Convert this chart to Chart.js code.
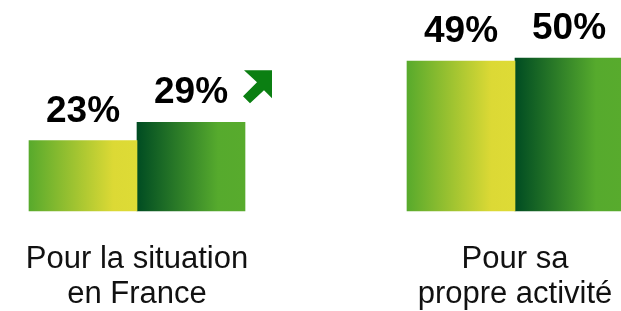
<!DOCTYPE html>
<html>
<head>
<meta charset="utf-8">
<script src="https://cdn.jsdelivr.net/npm/chart.js@4/dist/chart.umd.min.js"></script>
<style>
  html, body { margin: 0; padding: 0; background: #ffffff; }
  #wrap { width: 621px; height: 311px; }
</style>
</head>
<body>
<div id="wrap"><canvas id="c" width="621" height="311"></canvas></div>
<script>
// ---- data ----
const categories = [["Pour la situation", "en France"], ["Pour sa", "propre activité"]];
const seriesA = [23, 49];
const seriesB = [29, 50];
const valueLabelsA = ["23%", "49%"];
const valueLabelsB = ["29%", "50%"];

// ---- styles ----
const BAR_W = 108;
const gradA = [[0, '#58aa2c'], [0.78, '#dcd935'], [1, '#dedb36']];
const gradB = [[0, '#004c22'], [0.75, '#56aa2d'], [1, '#58ab2d']];

function barGradient(stops, side) {
  return function (ctx) {
    const chart = ctx.chart;
    if (!chart.chartArea || ctx.type !== 'data') return stops[0][1];
    const center = chart.scales.x.getPixelForValue(ctx.dataIndex);
    const left = side === 0 ? center - BAR_W : center;
    const g = chart.ctx.createLinearGradient(left, 0, left + BAR_W, 0);
    stops.forEach(s => g.addColorStop(s[0], s[1]));
    return g;
  };
}

const labelPlugin = {
  id: 'valueLabels',
  afterDatasetsDraw(chart) {
    const c = chart.ctx;
    c.save();
    c.font = 'bold 37px "Liberation Sans", Arial, sans-serif';
    c.fillStyle = '#000000';
    c.textAlign = 'center';
    c.textBaseline = 'alphabetic';
    [valueLabelsA, valueLabelsB].forEach((labels, di) => {
      const meta = chart.getDatasetMeta(di);
      meta.data.forEach((el, i) => {
        c.fillText(labels[i], el.x, el.y - 19);
      });
    });
    // green up-right arrow next to the second bar of the first group
    const el = chart.getDatasetMeta(1).data[0];
    const ox = el.x + 52, oy = el.y - 52;
    const pts = [[1, 0], [29, 0], [29, 28], [21, 20], [7, 33], [0, 26], [14, 12], [1, 0]];
    c.beginPath();
    pts.forEach((p, k) => k ? c.lineTo(ox + p[0], oy + p[1]) : c.moveTo(ox + p[0], oy + p[1]));
    c.closePath();
    c.fillStyle = '#0b7f12';
    c.fill();
    c.restore();
  }
};

new Chart(document.getElementById('c'), {
  type: 'bar',
  data: {
    labels: categories,
    datasets: [
      { data: seriesA, backgroundColor: barGradient(gradA, 0), borderWidth: 0, clip: false },
      { data: seriesB, backgroundColor: barGradient(gradB, 1), borderWidth: 0, clip: false }
    ]
  },
  options: {
    responsive: false,
    devicePixelRatio: 1,
    animation: false,
    layout: { padding: { left: 137, right: 106, top: 0, bottom: 0 } },
    datasets: { bar: { barThickness: BAR_W } },
    plugins: { legend: { display: false }, tooltip: { enabled: false } },
    scales: {
      x: {
        offset: false,
        grid: { display: false },
        border: { display: false },
        ticks: {
          color: '#111111',
          padding: 23,
          maxRotation: 0,
          autoSkip: false,
          font: { family: '"Liberation Sans", Arial, sans-serif', size: 31, lineHeight: 35 / 31 }
        },
        afterFit(scale) { scale.height = 100; scale.paddingLeft = 0; scale.paddingRight = 0; }
      },
      y: { display: false, min: 0, max: 69 }
    }
  },
  plugins: [labelPlugin]
});
</script>
</body>
</html>
